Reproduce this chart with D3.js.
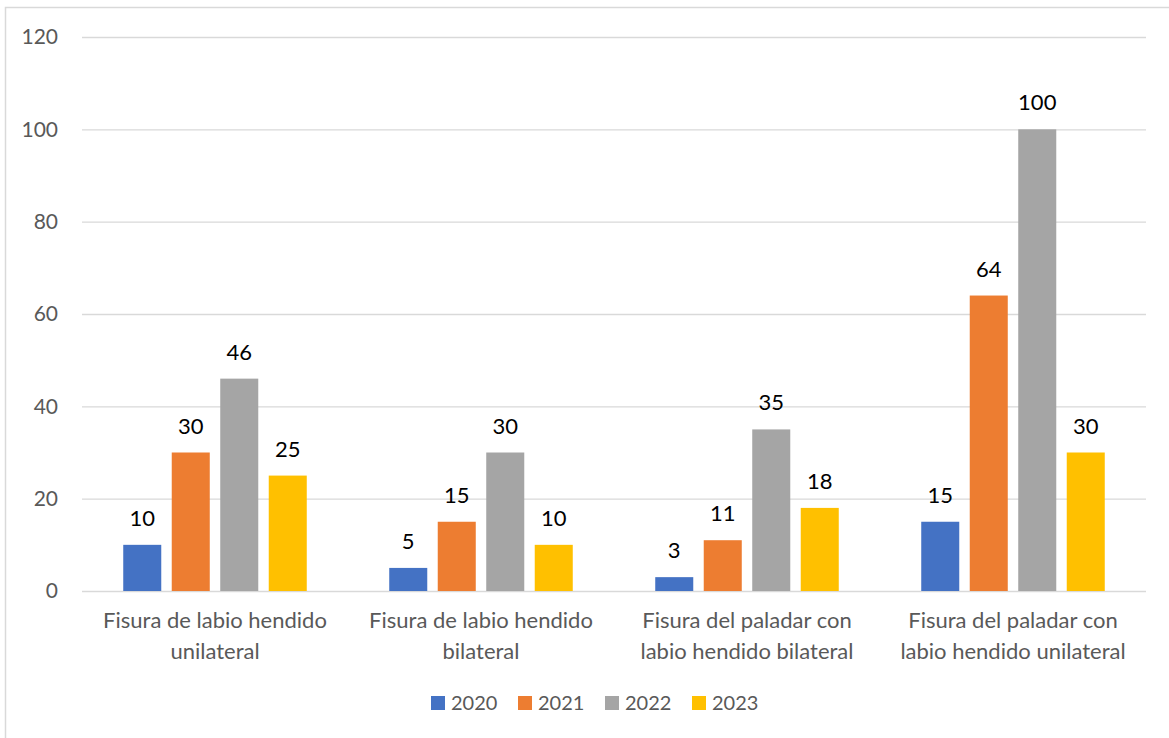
<!DOCTYPE html>
<html><head><meta charset="utf-8">
<script src="https://cdn.jsdelivr.net/npm/d3@7"></script>
<style>body{margin:0;background:#fff;} svg{display:block;}</style>
</head><body>
<svg id="c" width="1169" height="738"></svg>
<script>
const categories = [
  ["Fisura de labio hendido", "unilateral"],
  ["Fisura de labio hendido", "bilateral"],
  ["Fisura del paladar con", "labio hendido bilateral"],
  ["Fisura del paladar con", "labio hendido unilateral"]
];
const seriesNames = ["2020", "2021", "2022", "2023"];
const values2020 = [10, 5, 3, 15];
const values2021 = [30, 15, 11, 64];
const values2022 = [46, 30, 35, 100];
const values2023 = [25, 10, 18, 30];
const yTicks = [0, 20, 40, 60, 80, 100, 120];
const colors = ["#4472C4", "#ED7D31", "#A5A5A5", "#FFC000"];

(function () {
const seriesValues = [values2020, values2021, values2022, values2023];
const font = "Lato, 'Open Sans', sans-serif";
const svg = d3.select("#c");

// chart border
svg.append("rect").attr("x", 5.5).attr("y", 7.5).attr("width", 1200).attr("height", 800)
  .attr("fill", "none").attr("stroke", "#D9D9D9").attr("stroke-width", 1.5);

const pLeft = 82, pRight = 1146, pTop = 37, pBottom = 591;
const x0 = d3.scaleBand().domain(d3.range(categories.length)).range([pLeft, pRight]);
const x1 = d3.scaleBand().domain(seriesNames).range([-97, 97]).paddingInner(0.216).paddingOuter(0.108);
const y = d3.scaleLinear().domain([0, 120]).range([pBottom, pTop]);

// gridlines
const yAxis = d3.axisLeft(y).tickValues(yTicks).tickSize(-(pRight - pLeft)).tickPadding(24);
const gy = svg.append("g").attr("transform", `translate(${pLeft},0)`).call(yAxis);
gy.select(".domain").remove();
gy.selectAll(".tick line").attr("stroke", "#D9D9D9").attr("stroke-width", 1.3);
gy.selectAll(".tick text").attr("fill", "#595959").style("font-family", font).style("font-size", "21px");

// bars
categories.forEach((cat, ci) => {
  const cx = x0(ci) + x0.bandwidth() / 2;
  seriesNames.forEach((s, si) => {
    const v = seriesValues[si][ci];
    const bx = cx + x1(s);
    svg.append("rect").attr("x", bx).attr("y", y(v)).attr("width", x1.bandwidth())
      .attr("height", y(0) - y(v)).attr("fill", colors[si]);
    svg.append("text").attr("x", bx + x1.bandwidth() / 2).attr("y", y(v) - 19)
      .attr("text-anchor", "middle").attr("fill", "#000")
      .style("font-family", font).style("font-size", "22px").text(v);
  });
  cat.forEach((line, li) => {
    svg.append("text").attr("x", cx).attr("y", 628 + li * 31).attr("text-anchor", "middle")
      .attr("fill", "#595959").style("font-family", font).style("font-size", "22px").text(line);
  });
});

// legend
const legendX = [431, 518, 605, 692];
seriesNames.forEach((s, si) => {
  svg.append("rect").attr("x", legendX[si]).attr("y", 696).attr("width", 14).attr("height", 14).attr("fill", colors[si]);
  svg.append("text").attr("x", legendX[si] + 20).attr("y", 710).attr("fill", "#595959")
    .style("font-family", font).style("font-size", "20px").text(s);
});
})();
</script>
</body></html>
